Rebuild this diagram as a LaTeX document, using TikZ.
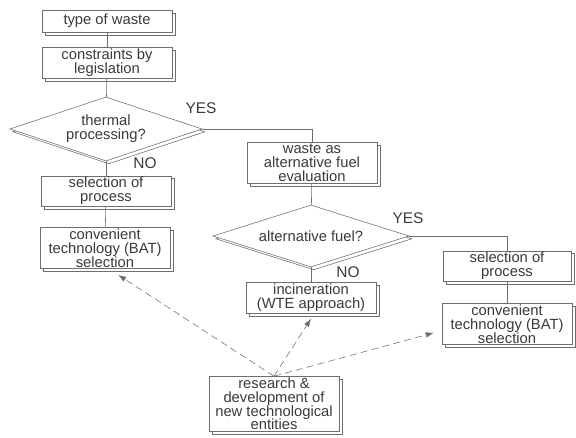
\documentclass[tikz,border=0pt]{standalone}
\usepackage{fontspec}
\setmainfont{Liberation Sans}
\usetikzlibrary{arrows.meta,shapes.geometric,shadows}

\definecolor{linegray}{HTML}{6E6E6E}
\definecolor{txtgray}{HTML}{3A3A3A}
\newcommand\flowfont{\fontsize{10.5}{9.8}\selectfont}

\tikzset{
  flowbox/.style={rectangle, draw=linegray, fill=white, text=txtgray, font=\flowfont,
    copy shadow={shadow xshift=2pt, shadow yshift=-2pt},
    minimum width=3.25cm, inner xsep=2pt, inner ysep=1pt, align=center},
  query/.style={diamond, aspect=3, draw=linegray, fill=white, text=txtgray, font=\flowfont,
    copy shadow={shadow xshift=2pt, shadow yshift=-2pt},
    inner sep=0pt, minimum width=4.8cm, minimum height=1.6cm, align=center},
  link/.style={draw=linegray, thin},
  hint/.style={draw=linegray, thin, dash pattern=on 5pt off 3pt, -{Latex[length=2mm,width=1.4mm]}},
  answer/.style={text=txtgray, font=\fontsize{11}{11}\selectfont}
}

\begin{document}
\begin{tikzpicture}[x=0.025cm, y=-0.025cm]
    \useasboundingbox (0,0) rectangle (576,438);

    % left column
    \node(type) [flowbox, minimum height=0.55cm] at (107,21) {type of waste};
    \node(legis) [flowbox, minimum height=0.78cm] at (107,63) {constraints by\\legislation};
    \node(thermal) [query] at (106,129) {thermal\\processing?};
    \node(selL) [flowbox, minimum height=0.75cm] at (106,191) {selection of\\process};
    \node(batL) [flowbox, minimum height=1.0cm] at (105,248) {convenient\\technology (BAT)\\selection};

    % middle column
    \node(fuel) [flowbox, minimum height=1.03cm] at (312,163) {waste as\\alternative fuel\\evaluation};
    \node(alt) [query, minimum width=4.9cm, minimum height=1.55cm] at (311,236) {alternative fuel?};
    \node(incin) [flowbox, minimum height=0.78cm] at (311,298) {incineration\\(WTE approach)};

    % right column
    \node(selR) [flowbox, minimum width=3.2cm, minimum height=0.7cm] at (507,266) {selection of\\process};
    \node(batR) [flowbox, minimum height=1.03cm] at (507,324) {convenient\\technology (BAT)\\selection};

    \node(rd) [flowbox, minimum height=1.35cm] at (274,404) {research \&\\development of\\new technological\\entities};

    % answers
    \node(yes1) [answer] at (201,108) {YES};
    \node(no1) [answer] at (145,163) {NO};
    \node(yes2) [answer] at (408,218) {YES};
    \node(no2) [answer] at (348,272) {NO};

    \draw[link] (type) -- (legis);
    \draw[link] (legis) -- (thermal);
    \draw[link] (thermal) -- (selL);
    \draw[link] (selL) -- (batL);
    \draw[link] (thermal.east) -| (fuel.north);
    \draw[link] (fuel) -- (alt);
    \draw[link] (alt) -- (incin);
    \draw[link] (alt.east) -| (selR.north);
    \draw[link] (selR) -- (batR);

    \draw[hint] (rd.north) -- ([xshift=0.33cm,yshift=-0.15cm]batL.south);
    \draw[hint] (rd.north) -- ([yshift=-0.12cm]incin.south);
    \draw[hint] (rd.north) -- ([xshift=-0.2cm,yshift=-0.22cm]batR.west);
\end{tikzpicture}
\end{document}
